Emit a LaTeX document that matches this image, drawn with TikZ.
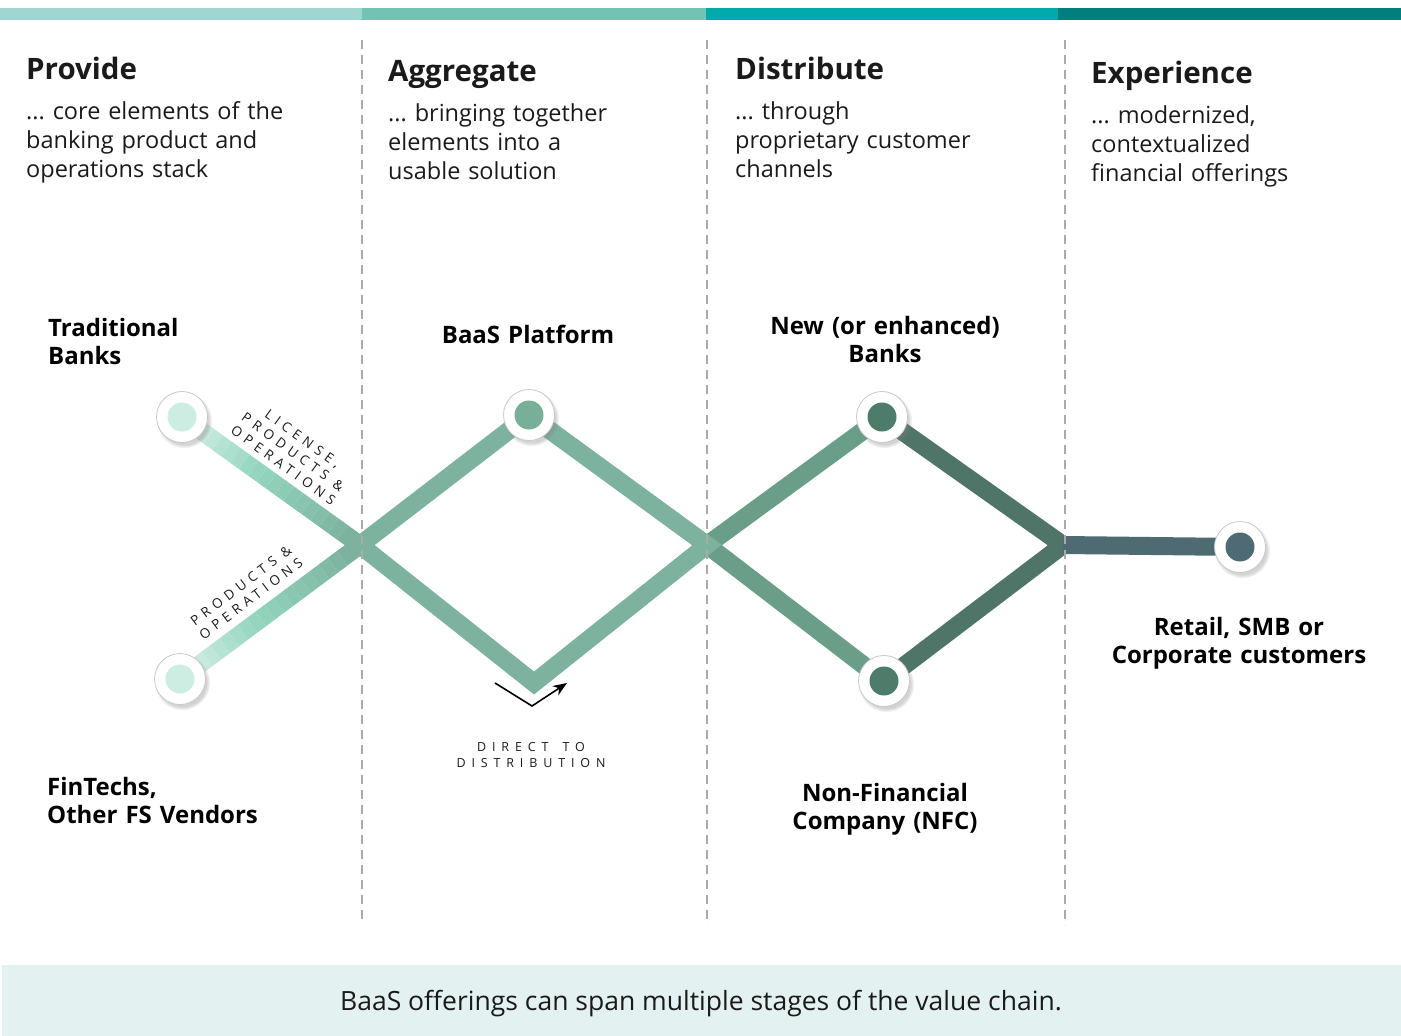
\documentclass[tikz,border=0pt]{standalone}
\usepackage{fontspec}
\setmainfont{Open Sans}
\newfontfamily\tagfont[LetterSpace=36]{Open Sans}
\newfontfamily\widetagfont[LetterSpace=47]{Open Sans}
\usetikzlibrary{arrows.meta,shadows,backgrounds,calc}

\definecolor{barA}{HTML}{A0D6D1}
\definecolor{barB}{HTML}{72C3B4}
\definecolor{barC}{HTML}{00AAAA}
\definecolor{barD}{HTML}{007F7F}
\definecolor{bandcol}{HTML}{E3F2F1}
\definecolor{divgray}{HTML}{AAAAAA}
\definecolor{leftlight}{HTML}{D8F0E9}
\definecolor{leftmid}{HTML}{93D5BE}
\definecolor{leftdark}{HTML}{7DB39E}
\definecolor{midgreen}{HTML}{7DB39E}
\definecolor{rightA}{HTML}{6A9E89}
\definecolor{rightB}{HTML}{4F7569}
\definecolor{custline}{HTML}{4E6B73}
\definecolor{innerlight}{HTML}{CDEDE3}
\definecolor{innerbaas}{HTML}{78AF98}
\definecolor{innerbank}{HTML}{4E7C6B}
\definecolor{innercust}{HTML}{4E6A74}
\definecolor{ringgray}{HTML}{C8C8C8}
\definecolor{textdark}{HTML}{1A1A1A}

\frenchspacing
\begin{document}
\begin{tikzpicture}[x=1pt,y=-1pt,>={Stealth[length=14pt,width=11pt]},
  stage title/.style={anchor=base west,inner sep=0,text=textdark,font=\fontsize{29.5}{34}\selectfont\bfseries},
  stage text/.style={anchor=base west,inner sep=0,text width=320pt,align=left,text=textdark,font=\fontsize{23.5}{29}\selectfont},
  actor/.style={anchor=base,inner sep=0,text width=320pt,align=center,text=black,font=\fontsize{24}{28.5}\selectfont\bfseries},
  left actor/.style={actor,anchor=base west,align=left},
  hub ring/.style={circle,draw=ringgray,line width=0.8pt,fill=white,minimum size=51pt,inner sep=0,
    circular drop shadow={shadow xshift=2pt,shadow yshift=-3pt,opacity=0.35}},
  hub/.style={circle,fill=#1,minimum size=29pt,inner sep=0},
  stream/.style={line width=18pt,line join=miter,draw=#1},
  divider/.style={draw=divgray,line width=2pt,dash pattern=on 9pt off 6pt},
  tag/.style={inner sep=0,align=center,text=textdark,font=\tagfont\fontsize{13.5}{16.5}\selectfont}]

  \useasboundingbox (0,0) rectangle (1401,1036);

  % colour bar and footer
  \fill[barA] (0,8) rectangle (362,20);
  \fill[barB] (362,8) rectangle (706,20);
  \fill[barC] (706,8) rectangle (1058,20);
  \fill[barD] (1058,8) rectangle (1401,20);
  \fill[bandcol] (2,965) rectangle (1401,1036);
  \node[inner sep=0,anchor=base,text=textdark,font=\fontsize{26.5}{30}\selectfont] (foot) at (701,1010)
    {BaaS offerings can span multiple stages of the value chain.};

  % stages
  \node[stage title] (provide) at (26,79) {Provide};
  \node[stage text] (provide text) at (26,119) {... core elements of the\\banking product and\\operations stack};
  \node[stage title] (aggregate) at (388,81) {Aggregate};
  \node[stage text] (aggregate text) at (388,121) {... bringing together\\elements into a\\usable solution};
  \node[stage title] (distribute) at (735,79) {Distribute};
  \node[stage text] (distribute text) at (735,119) {... through\\proprietary customer\\channels};
  \node[stage title] (experience) at (1091,83) {Experience};
  \node[stage text] (experience text) at (1091,123) {... modernized,\\contextualized\\financial offerings};

  % hubs
  \node[hub ring] (tb) at (182,417) {};
  \node[hub=innerlight] (tb in) at (tb) {};
  \node[hub ring] (ft) at (180,679) {};
  \node[hub=innerlight] (ft in) at (ft) {};
  \node[hub ring] (bp) at (529,415) {};
  \node[hub=innerbaas] (bp in) at (bp) {};
  \node[hub ring] (nb) at (882,417) {};
  \node[hub=innerbank] (nb in) at (nb) {};
  \node[hub ring] (nfc) at (884,681) {};
  \node[hub=innerbank] (nfc in) at (nfc) {};
  \node[hub ring] (cu) at (1240,547) {};
  \node[hub=innercust] (cu in) at (cu) {};

  \coordinate (j1) at (360,545);
  \coordinate (j2) at (707,545);
  \coordinate (j3) at (1063,545);
  \coordinate (dv) at (534,683);

  % actors
  \node[left actor] (tb label) at (48,336) {Traditional\\Banks};
  \node[actor] (bp label) at (528,343) {BaaS Platform};
  \node[actor] (nb label) at (885,334) {New (or enhanced)\\Banks};
  \node[actor] (cu label) at (1239,635) {Retail, SMB or\\Corporate customers};
  \node[left actor] (ft label) at (47,795) {FinTechs,\\Other FS Vendors};
  \node[actor] (nfc label) at (885,801) {Non-Financial\\Company (NFC)};

  % tags
  \node[tag,rotate=-36] (tb tag) at (293,452) {LICENSE,\\PRODUCTS \&\\OPERATIONS};
  \node[tag,rotate=37] (ft tag) at (246,592) {PRODUCTS \&\\OPERATIONS};
  \node[tag,font=\widetagfont\fontsize{12.5}{16}\selectfont] (dv tag) at (531,755) {DIRECT\hspace{5pt} TO\\DISTRIBUTION};

  \coordinate (a1) at (495,683);
  \coordinate (a2) at (532,706);
  \coordinate (a3) at (567,683);
  \draw[->,line width=1.6pt] (a1) -- (a2) -- (a3);

  \begin{scope}[on background layer]
    % feeds into the platform
    \foreach \i [evaluate=\i as \j using \i+1, evaluate=\i as \m using int(100-\i*12.5)] in {0,...,7}{
      \draw[line width=18pt,draw=leftlight!\m!leftmid] ($(tb)!\i/20!(j1)$) -- ($(tb)!\j/20!(j1)$);
      \draw[line width=18pt,draw=leftlight!\m!leftmid] ($(ft)!\i/20!(j1)$) -- ($(ft)!\j/20!(j1)$);
    }
    \foreach \i [evaluate=\i as \j using \i+1, evaluate=\i as \m using int(100-(\i-8)*10)] in {8,...,17}{
      \draw[line width=18pt,draw=leftmid!\m!leftdark] ($(tb)!\i/20!(j1)$) -- ($(tb)!\j/20!(j1)$);
      \draw[line width=18pt,draw=leftmid!\m!leftdark] ($(ft)!\i/20!(j1)$) -- ($(ft)!\j/20!(j1)$);
    }
    \draw[stream=leftdark] ($(tb)!0.9!(j1)$) -- (j1) -- ($(ft)!0.9!(j1)$);

    \draw[stream=rightA] (nb.center) -- (j2) -- (nfc.center);
    \draw[stream=rightB] (nb.center) -- (j3) -- (nfc.center);
    \draw[stream=midgreen] (j1) -- (bp.center) -- (j2) -- (dv) -- cycle;
    \draw[stream=custline] (j3) -- (cu.center);

    \draw[divider] (362,40) -- (362,925);
    \draw[divider] (707,40) -- (707,925);
    \draw[divider] (1065,40) -- (1065,925);
  \end{scope}
\end{tikzpicture}
\end{document}
